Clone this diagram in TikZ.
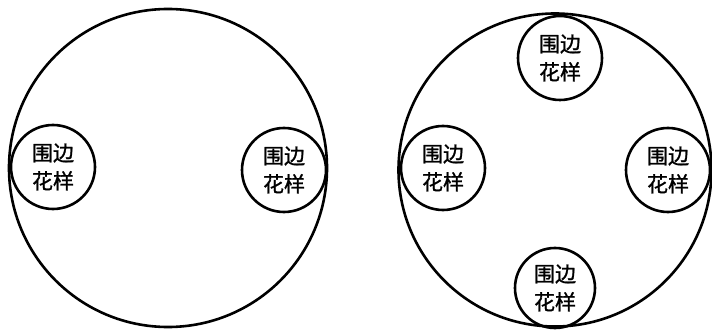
\documentclass[tikz,border=0pt]{standalone}
\usepackage{fontspec}
\newfontfamily\cjk[FakeBold=1.2]{Noto Sans CJK SC}
\begin{document}
\begin{tikzpicture}[x=1pt,y=-1pt,
  bigc/.style={circle,draw,line width=2.6pt,inner sep=0pt},
  smallc/.style={circle,draw,line width=2.6pt,inner sep=0pt,minimum size=84pt,
    font=\cjk\fontsize{21}{28}\selectfont,align=center}]
\useasboundingbox (0,0) rectangle (712,331);
\fill[white] (0,0) rectangle (712,331);
\node[bigc,minimum size=318pt] (L) at (168,168) {};
\node[smallc] (L1) at (53,167) {围边\\花样};
\node[smallc] (L2) at (284,170) {围边\\花样};
\node[bigc,minimum size=313pt] (R) at (555,170) {};
\node[smallc] (R1) at (560,58) {围边\\花样};
\node[smallc] (R2) at (443,168) {围边\\花样};
\node[smallc] (R3) at (668,170) {围边\\花样};
\node[smallc,minimum size=80pt] (R4) at (555,288) {围边\\花样};
\end{tikzpicture}
\end{document}
